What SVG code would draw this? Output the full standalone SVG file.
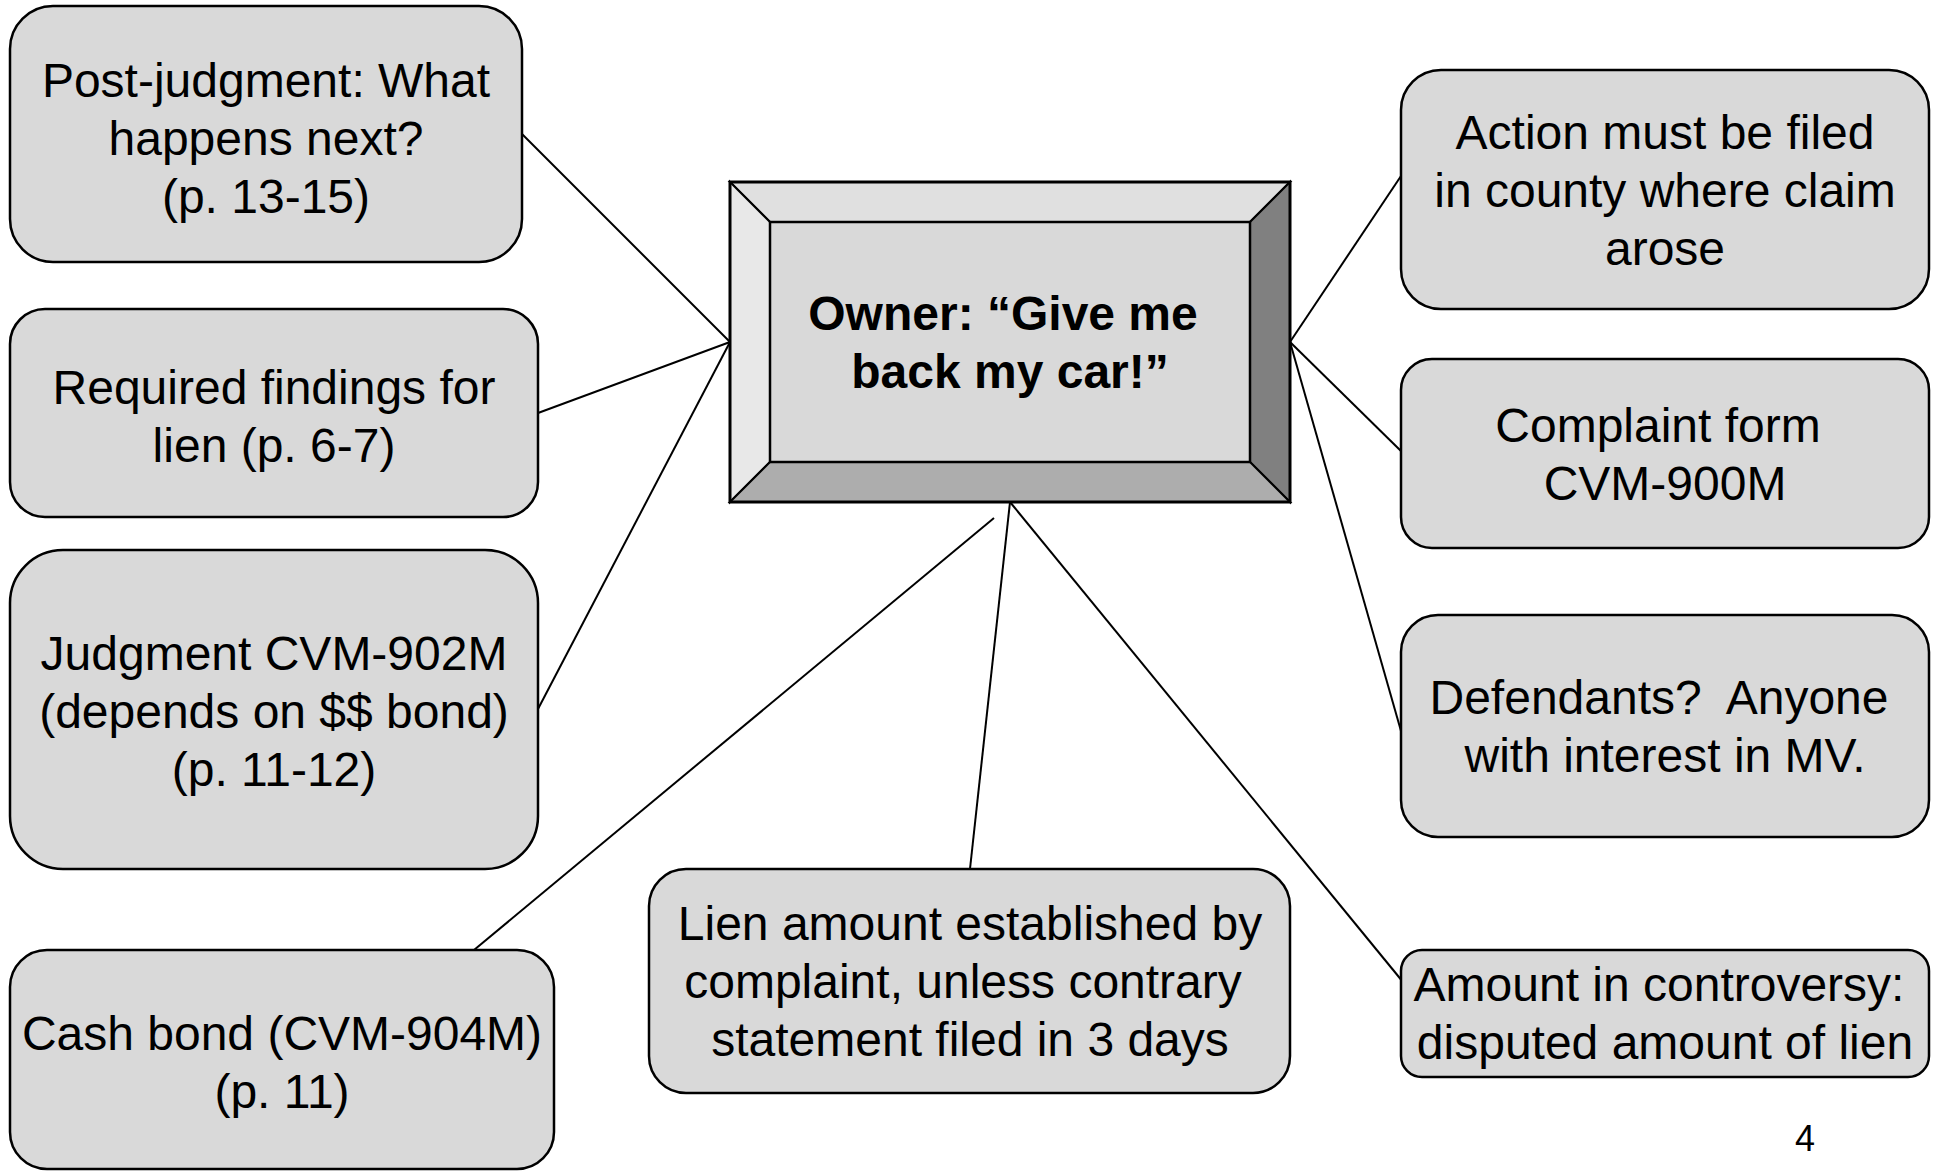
<svg xmlns="http://www.w3.org/2000/svg" width="1939" height="1171" viewBox="0 0 1939 1171">
<style>
.box{fill:#d9d9d9;stroke:#000;stroke-width:2.5}
.t{font-family:"Liberation Sans",Arial,sans-serif;font-size:48px;fill:#000;text-anchor:middle}
.b{font-weight:bold}
.c{stroke:#000;stroke-width:2;fill:none}
.bev{stroke:#000;stroke-width:2}
</style>
<rect width="1939" height="1171" fill="#fff"/>
<g id="connectors">
<line class="c" x1="522" y1="134" x2="730" y2="342"/>
<line class="c" x1="538" y1="413" x2="730" y2="342"/>
<line class="c" x1="538" y1="709" x2="730" y2="342"/>
<line class="c" x1="474" y1="950" x2="994" y2="518"/>
<line class="c" x1="970" y1="869" x2="1010" y2="502"/>
<line class="c" x1="1010" y1="502" x2="1403" y2="982"/>
<line class="c" x1="1290" y1="342" x2="1403" y2="173"/>
<line class="c" x1="1290" y1="342" x2="1403" y2="453"/>
<line class="c" x1="1290" y1="342" x2="1403" y2="738"/>
</g>
<g id="center">
<polygon points="730,182 1290,182 1250,222 770,222" fill="#e0e0e0" class="bev"/>
<polygon points="730,182 770,222 770,462 730,502" fill="#e8e8e8" class="bev"/>
<polygon points="1290,182 1290,502 1250,462 1250,222" fill="#808080" class="bev"/>
<polygon points="730,502 770,462 1250,462 1290,502" fill="#adadad" class="bev"/>
<rect x="770" y="222" width="480" height="240" fill="#d9d9d9" stroke="#000" stroke-width="2.5"/>
<rect x="730" y="182" width="560" height="320" fill="none" stroke="#000" stroke-width="3"/>
<text class="t b" x="1003" y="330">Owner: “Give me</text>
<text class="t b" x="1010" y="388">back my car!”</text>
</g>
<g id="post-judgment">
<rect class="box" x="10" y="6" width="512" height="256" rx="43"/>
<text class="t" x="266" y="97">Post-judgment: What</text>
<text class="t" x="266" y="155">happens next?</text>
<text class="t" x="266" y="213">(p. 13-15)</text>
</g>
<g id="required-findings">
<rect class="box" x="10" y="309" width="528" height="208" rx="35"/>
<text class="t" x="274" y="404">Required findings for</text>
<text class="t" x="274" y="462">lien (p. 6-7)</text>
</g>
<g id="judgment">
<rect class="box" x="10" y="550" width="528" height="319" rx="53"/>
<text class="t" x="274" y="670">Judgment CVM-902M</text>
<text class="t" x="274" y="728">(depends on $$ bond)</text>
<text class="t" x="274" y="786">(p. 11-12)</text>
</g>
<g id="cash-bond">
<rect class="box" x="10" y="950" width="544" height="219" rx="37"/>
<text class="t" x="282" y="1050">Cash bond (CVM-904M)</text>
<text class="t" x="282" y="1108">(p. 11)</text>
</g>
<g id="lien-amount">
<rect class="box" x="649" y="869" width="641" height="224" rx="37"/>
<text class="t" x="970" y="940">Lien amount established by</text>
<text class="t" x="963" y="998">complaint, unless contrary</text>
<text class="t" x="970" y="1056">statement filed in 3 days</text>
</g>
<g id="action-filed">
<rect class="box" x="1401" y="70" width="528" height="239" rx="40"/>
<text class="t" x="1665" y="149">Action must be filed</text>
<text class="t" x="1665" y="207">in county where claim</text>
<text class="t" x="1665" y="265">arose</text>
</g>
<g id="complaint-form">
<rect class="box" x="1401" y="359" width="528" height="189" rx="31"/>
<text class="t" x="1658" y="442">Complaint form</text>
<text class="t" x="1665" y="500">CVM-900M</text>
</g>
<g id="defendants">
<rect class="box" x="1401" y="615" width="528" height="222" rx="37"/>
<text class="t" x="1659" y="714" xml:space="preserve">Defendants?  Anyone</text>
<text class="t" x="1665" y="772">with interest in MV.</text>
</g>
<g id="amount-controversy">
<rect class="box" x="1401" y="950" width="528" height="127" rx="21"/>
<text class="t" x="1659" y="1001">Amount in controversy:</text>
<text class="t" x="1665" y="1059">disputed amount of lien</text>
</g>
<text x="1805" y="1151" font-family="Liberation Sans, Arial, sans-serif" font-size="36" text-anchor="middle">4</text>
</svg>
